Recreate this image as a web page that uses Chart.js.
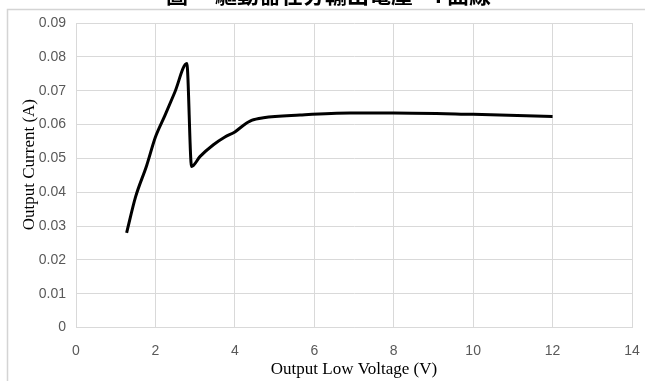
<!DOCTYPE html>
<html>
<head>
<meta charset="utf-8">
<script src="https://cdn.jsdelivr.net/npm/chart.js@4/dist/chart.umd.min.js"></script>
<style>
  html, body { margin: 0; padding: 0; background: #ffffff; }
  #wrap { position: relative; width: 645px; height: 381px; overflow: hidden; }
</style>
</head>
<body>
<div id="wrap"><canvas id="c" width="645" height="381"></canvas></div>
<script>
// ---- data ----
const voltage = [1.275, 1.50, 1.78, 2.00, 2.24, 2.49, 2.79, 2.91, 3.12, 3.46, 3.75, 4.00, 4.21, 4.42, 4.72, 5.64, 6.90, 8.00, 10.00, 12.00];
const current = [0.0280, 0.0386, 0.0479, 0.0563, 0.0627, 0.0696, 0.0780, 0.0476, 0.0505, 0.0540, 0.0563, 0.0578, 0.0597, 0.0612, 0.0620, 0.0628, 0.0634, 0.0634, 0.0630, 0.0624];
const xTickLabels = ['0', '2', '4', '6', '8', '10', '12', '14'];
const yTickLabels = ['0', '0.01', '0.02', '0.03', '0.04', '0.05', '0.06', '0.07', '0.08', '0.09'];
const chartTitle = '     圖一 驅動器在分輸出電壓 – I 曲線';
const xTitle = 'Output Low Voltage (V)';
const yTitle = '     Output Current (A)';

const points = voltage.map((v, i) => ({ x: v, y: current[i] }));

const framePlugin = {
  id: 'frame',
  beforeDraw(chart) {
    const ctx = chart.ctx;
    ctx.save();
    ctx.strokeStyle = '#d4d4d4';
    ctx.lineWidth = 1.5;
    ctx.beginPath();
    ctx.moveTo(7.5, 381);
    ctx.lineTo(7.5, 9.5);
    ctx.lineTo(645, 9.5);
    ctx.stroke();
    ctx.restore();
  }
};

const tickFont = { family: "'Liberation Sans', Arial, sans-serif", size: 14 };
const titleFont = { family: "'Liberation Serif', 'Times New Roman', serif", size: 17 };
const gridColor = '#d9d9d9';

new Chart(document.getElementById('c'), {
  type: 'scatter',
  data: {
    datasets: [{
      data: points,
      showLine: true,
      borderColor: '#000000',
      borderWidth: 3,
      pointRadius: 0,
      cubicInterpolationMode: 'monotone',
      fill: false
    }]
  },
  plugins: [framePlugin],
  options: {
    responsive: false,
    animation: false,
    layout: { padding: { left: 0, right: 13, top: 0, bottom: 0 } },
    plugins: {
      legend: { display: false },
      tooltip: { enabled: false },
      title: {
        display: true,
        text: chartTitle,
        color: '#000000',
        font: { family: "'Noto Sans CJK TC', 'Noto Sans CJK SC', sans-serif", size: 22, weight: 'bold' },
        padding: { top: -19, bottom: 15.6 }
      }
    },
    scales: {
      x: {
        type: 'linear',
        min: 0, max: 14,
        afterBuildTicks(scale) { scale.ticks = xTickLabels.map(t => ({ value: Number(t) })); },
        afterFit(scale) { scale.height = 53.5; scale.paddingRight = 0; scale.paddingLeft = 0; },
        ticks: {
          color: '#595959', font: tickFont, padding: 15,
          maxRotation: 0,
          callback: (v, i) => xTickLabels[i]
        },
        grid: { color: gridColor, lineWidth: 1, drawTicks: false },
        border: { color: gridColor, width: 1 },
        title: { display: true, text: xTitle, color: '#000000', font: titleFont, padding: { top: 0, bottom: 1 } }
      },
      y: {
        type: 'linear',
        min: 0, max: 0.09,
        afterBuildTicks(scale) { scale.ticks = yTickLabels.map(t => ({ value: Number(t) })); },
        afterFit(scale) { scale.width = 76; },
        ticks: {
          color: '#595959', font: tickFont, padding: 10,
          callback: (v, i) => yTickLabels[i]
        },
        grid: { color: gridColor, lineWidth: 1, drawTicks: false },
        border: { color: gridColor, width: 1 },
        title: { display: true, text: yTitle, color: '#000000', font: titleFont, padding: { top: 19, bottom: 0 } }
      }
    }
  }
});
</script>
</body>
</html>
